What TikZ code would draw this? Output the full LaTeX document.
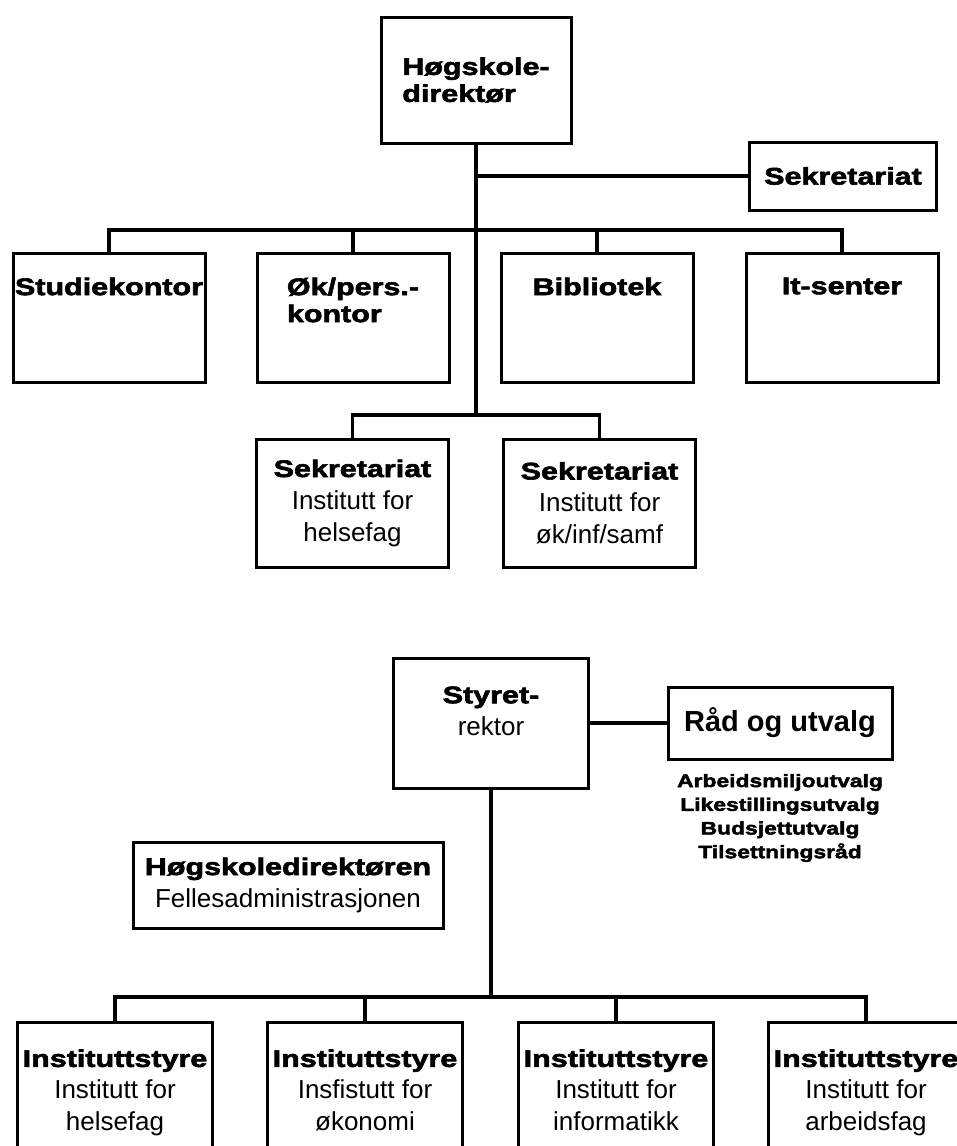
\documentclass[tikz,border=0pt]{standalone}
\usepackage{fontspec}
\setmainfont{Liberation Sans}
\newfontfamily\heavyfont{Liberation Sans}[FakeStretch=1.27,FakeBold=2.5]
\newcommand{\hv}{\heavyfont\bfseries}
\newcommand{\hvhead}[1]{{\hv\fontsize{24}{32}\selectfont #1}}
\usetikzlibrary{positioning}

\begin{document}
\begin{tikzpicture}[x=1pt, y=-1pt,
    box/.style={draw, line width=3pt, inner sep=0pt, align=center},
    lnk/.style={line width=3.5pt},
    hvtxt/.style={font=\hv\fontsize{24}{27}\selectfont, inner sep=0pt, align=left},
    txt/.style={font=\fontsize{26}{32}\selectfont, align=center}]
        \useasboundingbox (0,0) rectangle (957,1146);

        % upper chart
        \node[box, minimum width=190pt, minimum height=126pt, hvtxt] (dir) at (476,80) {Høgskole-\\direktør};
        \node[box, minimum width=187pt, minimum height=68pt, hvtxt] (sek) at (843,176) {Sekretariat};
        \foreach \n/\x in {stud/109, okp/353, bib/597, its/842}
          \node[box, minimum width=192pt, minimum height=129pt] (\n) at (\x,317.5) {};
        \node[hvtxt, below=26pt of stud.north] (studtxt) {Studiekontor};
        \node[hvtxt, below=26pt of okp.north] (okptxt) {Øk/pers.-\\kontor};
        \node[hvtxt, below=26pt of bib.north] (bibtxt) {Bibliotek};
        \node[hvtxt, below=26pt of its.north] (itstxt) {It-senter};
        \node[box, minimum width=192pt, minimum height=128pt, txt] (sek1) at (352.5,503) {\hvhead{Sekretariat}\\Institutt for\\helsefag};
        \node[box, minimum width=192pt, minimum height=128pt, txt] (sek2) at (599.5,503) {\hvhead{Sekretariat}\\Institutt for\\øk/inf/samf};

        \coordinate (bus1) at (476,230);
        \coordinate (bus2) at (476,415);
        \draw[lnk] (dir) -- (bus2);
        \draw[lnk] (sek) -- (sek -| dir);
        \foreach \n in {stud,okp,bib,its}
          \draw[lnk] (bus1) -| (\n.north);
        \foreach \n in {sek1,sek2}
          \draw[lnk] (bus2) -| (\n.north);

        % lower chart
        \node[box, minimum width=195pt, minimum height=130pt] (styr) at (491,723) {};
        \node[txt, inner sep=0pt] (styrtxt) at (491,711) {\hvhead{Styret-}\\rektor};
        \node[box, minimum width=224pt, minimum height=72pt, font=\bfseries\fontsize{29}{32}\selectfont] (raad) at (780,723) {Råd og utvalg};
        \node[font=\hv\fontsize{18}{23.7}\selectfont, align=center, inner sep=0pt] (utvalg) at (780,818) {Arbeidsmiljoutvalg\\Likestillingsutvalg\\Budsjettutvalg\\Tilsettningsråd};
        \node[box, minimum width=310pt, minimum height=86pt, txt] (hdir) at (288,885) {\hvhead{Høgskoledirektøren}\\Fellesadministrasjonen};

        \coordinate (bus3) at (491,997);
        \draw[lnk] (styr) -- (raad);
        \draw[lnk] (styr) -- (bus3);
        \foreach \n/\x/\la/\lb in {inst1/115/Institutt for/helsefag, inst2/365/Insfistutt for/økonomi, inst3/616/Institutt for/informatikk, inst4/866/Institutt for/arbeidsfag} {
          \node[box, minimum width=195pt, minimum height=146pt, txt] (\n) at (\x,1095) {\hvhead{Instituttstyre}\\\la\\\lb\strut};
          \draw[lnk] (bus3) -| (\n.north);
        }
      \end{tikzpicture}
\end{document}
